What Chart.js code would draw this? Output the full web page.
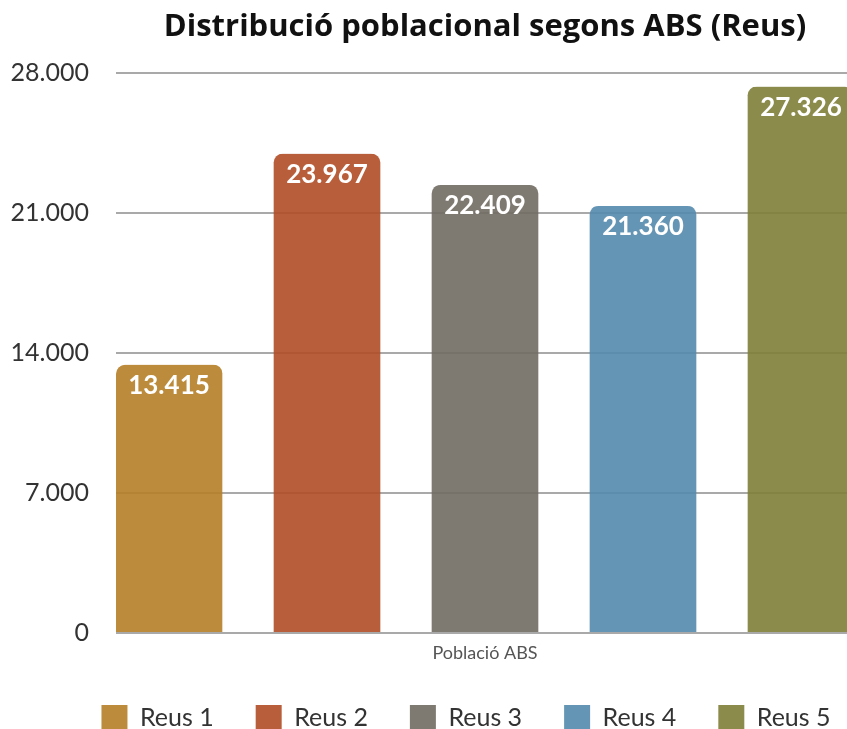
<!DOCTYPE html>
<html>
<head>
<meta charset="utf-8">
<script src="https://cdn.jsdelivr.net/npm/chart.js@4.4.0/dist/chart.umd.min.js"></script>
<style>
  html, body { margin: 0; padding: 0; background: #fff; overflow: hidden; }
  #wrap { width: 932px; height: 741px; }
</style>
</head>
<body>
<div id="wrap"><canvas id="chart"></canvas></div>
<script>
const categories = ['Població ABS'];
const seriesNames = ['Reus 1', 'Reus 2', 'Reus 3', 'Reus 4', 'Reus 5'];
const seriesValues = [13415, 23967, 22409, 21360, 27326];
const yTicks = [0, 7000, 14000, 21000, 28000];
const seriesColors = ['#bc8b3c', '#b95e3c', '#7f7a72', '#6595b5', '#8b8b4b'];

const GAP = 52;     // space between bars, none at the outer edges
const RADIUS = 9;
const n = seriesNames.length;

function fmt(v) {
  return String(v).replace(/\B(?=(\d{3})+(?!\d))/g, '.');
}

// slightly see-through fill that still looks like the target colour on white
function tint(hex, a) {
  const c = [1, 3, 5].map(k => parseInt(hex.substr(k, 2), 16));
  const r = c.map(t => Math.round((t - 255 * (1 - a)) / a));
  return `rgba(${r[0]},${r[1]},${r[2]},${a})`;
}

// each bar gets a transparent side border so the bars sit flush with the plot edges
const datasets = seriesNames.map((name, i) => {
  const left = i * GAP / n;
  const right = (n - 1 - i) * GAP / n;
  return {
    label: name,
    data: [seriesValues[i]],
    backgroundColor: tint(seriesColors[i], 0.9),
    borderColor: 'rgba(0,0,0,0)',
    borderWidth: { left: left, right: right, top: 0, bottom: 0 },
    borderRadius: { topLeft: RADIUS + left, topRight: RADIUS + right, bottomLeft: 0, bottomRight: 0 },
    borderSkipped: 'bottom',
    categoryPercentage: 1,
    barPercentage: 1
  };
});

const barLabels = {
  id: 'barLabels',
  afterDatasetsDraw(chart) {
    const ctx = chart.ctx;
    ctx.save();
    ctx.font = 'bold 26px Lato';
    ctx.fillStyle = '#ffffff';
    ctx.textAlign = 'center';
    ctx.textBaseline = 'middle';
    chart.data.datasets.forEach((ds, i) => {
      chart.getDatasetMeta(i).data.forEach((bar, j) => {
        const { x, y } = bar.getProps(['x', 'y'], true);
        const cx = x + (ds.borderWidth.left - ds.borderWidth.right) / 2;
        ctx.fillText(fmt(ds.data[j]), cx, y + 21);
      });
    });
    ctx.restore();
  }
};

new Chart(document.getElementById('chart'), {
  type: 'bar',
  data: { labels: categories, datasets: datasets },
  options: {
    responsive: true,
    maintainAspectRatio: false,
    animation: false,
    layout: { padding: 0 },
    plugins: {
      tooltip: { enabled: false },
      title: {
        display: true,
        text: 'Distribució poblacional segons ABS (Reus)',
        fullSize: false,
        color: '#111111',
        font: { family: 'Open Sans', size: 31, weight: 'bold' },
        padding: { top: 9, bottom: 27 }
      },
      legend: {
        position: 'bottom',
        fullSize: true,
        labels: {
          boxWidth: 26,
          boxHeight: 26,
          padding: 42,
          color: '#333333',
          font: { family: 'Lato', size: 25 }
        }
      }
    },
    scales: {
      x: {
        afterFit: s => { s.height = 30; },
        grid: { display: false, drawTicks: false },
        border: { display: false },
        ticks: { color: '#555555', padding: 9, font: { family: 'Lato', size: 18 } }
      },
      y: {
        min: 0,
        max: 28000,
        afterBuildTicks: s => { s.ticks = yTicks.map(v => ({ value: v })); },
        afterFit: s => { s.width = 116; },
        grid: { color: '#a9a9a9', lineWidth: 2, drawTicks: false },
        border: { display: false },
        ticks: {
          padding: 27,
          color: '#333333',
          font: { family: 'Lato', size: 25 },
          callback: v => fmt(v)
        }
      },
      // empty right-hand strip, keeps the legend centred like the original
      yPad: {
        type: 'linear',
        position: 'right',
        grid: { display: false },
        border: { display: false },
        ticks: { display: false },
        afterFit: s => { s.width = 78; }
      }
    }
  },
  plugins: [barLabels]
});
</script>
</body>
</html>
